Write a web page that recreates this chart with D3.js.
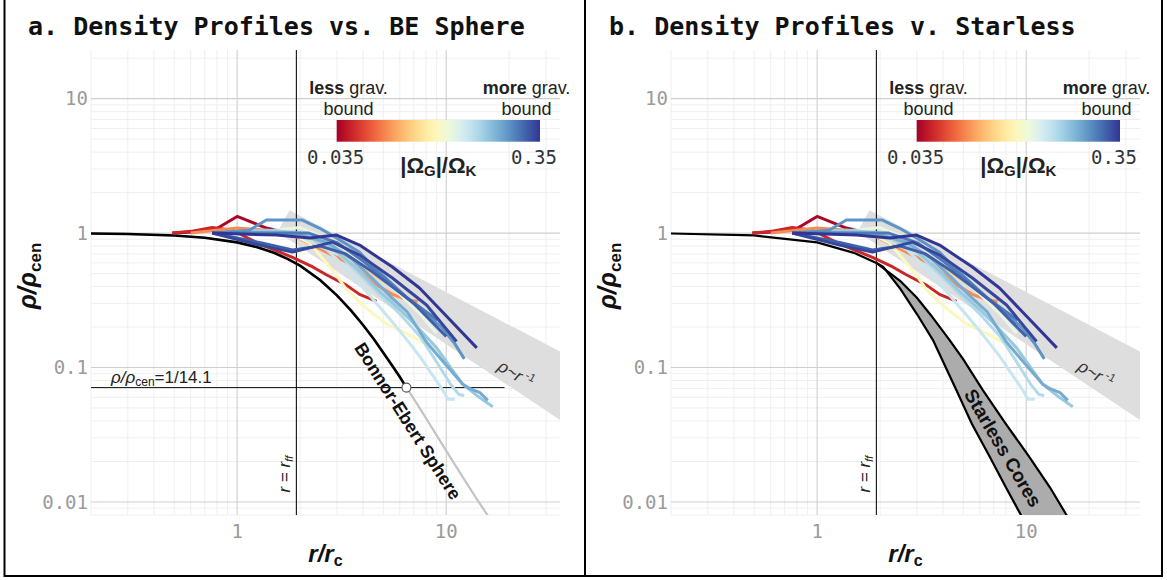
<!DOCTYPE html>
<html><head><meta charset="utf-8">
<script src="https://cdn.jsdelivr.net/npm/d3@7"></script>
<style>
html,body{margin:0;padding:0;background:#fff;}
svg{display:block;}
</style></head>
<body>
<svg id="c" width="1167" height="580"></svg>
<script>
// ---------------- data ----------------
const panelTitles = ["a. Density Profiles vs. BE Sphere", "b. Density Profiles v. Starless"];
const xTicks = [1, 10];
const xTickLabels = ["1", "10"];
const yTicks = [0.01, 0.1, 1, 10];
const yTickLabels = ["0.01", "0.1", "1", "10"];
const rFF = 1.92;
const criticalContrast = 1 / 14.1;
const criticalRadius = 6.45;
const omegaRange = [0.035, 0.35];
const omegaLabels = ["0.035", "0.35"];

// Bonnor-Ebert sphere
const beR   = [0.2, 0.3, 0.5, 0.7, 1.0, 1.25, 1.5, 1.75, 2.0, 2.5, 3.0, 3.5, 4.0, 4.5, 5.0, 5.5, 6.0, 6.45, 7.0, 8.0, 9.0, 10.0, 12.0, 14.0, 16.0, 18.0];
const beRho = [0.993, 0.985, 0.960, 0.923, 0.853, 0.785, 0.713, 0.641, 0.572, 0.446, 0.344, 0.266, 0.207, 0.163, 0.129, 0.104, 0.085, 0.0709, 0.0585, 0.042, 0.0313, 0.024, 0.0153, 0.0105, 0.0077, 0.0058];

// starless cores envelope (panel b)
const slUpperR   = [0.2, 0.5, 1.0, 1.5, 1.92, 2.5, 3.0, 3.5, 4.3, 5.0, 6.2, 8.0, 10.3, 13.0, 15.5, 18.0];
const slUpperRho = [0.993, 0.960, 0.853, 0.713, 0.60, 0.44, 0.33, 0.245, 0.16, 0.115, 0.068, 0.038, 0.0218, 0.0128, 0.0081, 0.0058];
const slLowerR   = [1.92, 2.07, 2.5, 3.0, 3.58, 4.63, 5.5, 6.68, 8.0, 9.39, 10.5];
const slLowerRho = [0.60, 0.56, 0.385, 0.25, 0.16, 0.068, 0.038, 0.0218, 0.0128, 0.0081, 0.0057];

// rho ~ r^-1 band (corners)
const bandR   = [1.78, 40, 40, 1.56];
const bandRho = [1.48, 0.118, 0.0355, 1.02];

// observed profiles
const profOmega = [0.036, 0.042, 0.062, 0.08, 0.11, 0.13, 0.155, 0.17, 0.19, 0.22, 0.245, 0.27, 0.30, 0.33, 0.35];
const profR = [
  [0.49, 0.62, 0.8, 1.0, 1.38, 1.75, 2.2, 2.6],
  [0.49, 0.6, 0.76, 0.95, 1.28, 1.84, 2.3, 2.67, 3.33, 3.85, 4.44, 4.64],
  [0.6, 1.0, 1.4, 1.84, 2.67, 3.56, 4.44, 5.53, 6.5, 7.3],
  [0.76, 1.2, 1.7, 2.3, 3.0, 3.8, 4.8, 6.0],
  [0.76, 1.3, 1.8, 2.2, 2.56, 3.0, 3.33, 4.0, 4.44, 5.2, 6.0, 6.9, 8.0, 9.0, 10.0, 10.7],
  [1.0, 1.5, 2.0, 2.5, 3.2, 4.0, 5.0, 6.0, 7.5, 9.0],
  [0.76, 1.3, 2.0, 2.7, 3.5, 4.4, 5.5, 6.5, 7.5, 8.5, 9.5, 10.2, 11.0],
  [0.76, 1.5, 2.2, 3.0, 3.8, 4.8, 6.0, 7.5, 9.0, 10.5, 11.5, 12.2],
  [0.76, 1.4, 2.0, 2.8, 3.7, 4.7, 6.0, 7.5, 9.0, 10.5, 12.0, 14.0, 16.7],
  [0.76, 1.3, 2.0, 2.7, 3.5, 4.5, 5.5, 6.5, 8.05, 10.0, 12.0, 12.9, 14.5, 15.8],
  [0.76, 1.14, 1.38, 2.05, 2.47, 2.99, 3.85, 4.5, 5.5, 6.5, 8.0, 9.5, 11.0, 12.2],
  [0.76, 1.5, 2.2, 3.0, 4.0, 5.0, 6.5, 8.0, 9.08],
  [0.76, 1.28, 1.84, 2.5, 3.3, 4.4, 5.5, 7.0, 8.5, 10.0],
  [0.76, 1.28, 1.84, 2.86, 3.85, 5.53, 8.05, 11.2],
  [0.76, 1.54, 2.22, 2.99, 3.85, 5.53, 7.45, 9.6, 14.0]
];
const profRho = [
  [1.0, 1.02, 1.08, 1.33, 1.09, 1.0, 0.88, 0.78],
  [1.0, 1.03, 1.1, 1.05, 0.83, 0.66, 0.56, 0.49, 0.41, 0.35, 0.32, 0.31],
  [1.0, 1.09, 1.05, 0.97, 0.72, 0.58, 0.43, 0.35, 0.32, 0.31],
  [1.0, 1.04, 1.02, 0.9, 0.75, 0.6, 0.46, 0.37],
  [1.0, 1.03, 1.0, 0.85, 0.65, 0.48, 0.38, 0.29, 0.254, 0.21, 0.19, 0.17, 0.15, 0.135, 0.11, 0.099],
  [1.0, 1.05, 1.1, 0.95, 0.78, 0.6, 0.45, 0.35, 0.25, 0.18],
  [1.0, 1.0, 0.95, 0.75, 0.5, 0.33, 0.22, 0.16, 0.12, 0.09, 0.07, 0.058, 0.058],
  [1.0, 1.05, 0.95, 0.72, 0.5, 0.35, 0.25, 0.17, 0.11, 0.075, 0.063, 0.062],
  [1.0, 1.05, 1.0, 0.8, 0.55, 0.38, 0.27, 0.19, 0.14, 0.1, 0.075, 0.062, 0.051],
  [1.0, 1.0, 0.97, 0.85, 0.65, 0.45, 0.33, 0.26, 0.154, 0.104, 0.075, 0.07, 0.065, 0.057],
  [1.0, 1.05, 1.25, 1.25, 1.09, 0.92, 0.72, 0.56, 0.42, 0.33, 0.25, 0.2, 0.15, 0.116],
  [1.0, 1.0, 1.0, 0.85, 0.62, 0.47, 0.33, 0.26, 0.226],
  [1.0, 0.85, 0.75, 0.8, 0.7, 0.52, 0.4, 0.3, 0.22, 0.17],
  [1.0, 0.814, 0.722, 0.857, 0.686, 0.463, 0.292, 0.156],
  [1.0, 0.966, 0.918, 0.966, 0.814, 0.559, 0.39, 0.259, 0.14]
];

// ---------------- drawing ----------------
const svg = d3.select("#c");
const monoFont = "'DejaVu Sans Mono', 'Liberation Mono', monospace";
const sansFont = "'Liberation Sans', Arial, Helvetica, sans-serif";
const color = d3.scaleSequentialLog(d3.interpolateRdYlBu).domain(omegaRange);

// colorbar gradient
const defs = svg.append("defs");
const grad = defs.append("linearGradient").attr("id", "cbar").attr("x1", "0%").attr("x2", "100%");
d3.range(0, 1.0001, 0.05).forEach(t => grad.append("stop").attr("offset", (t * 100) + "%").attr("stop-color", d3.interpolateRdYlBu(t)));

// panel borders
svg.append("rect").attr("x", 4.5).attr("y", -5).attr("width", 580.5).attr("height", 581)
  .attr("fill", "none").attr("stroke", "#000").attr("stroke-width", 2);
svg.append("rect").attr("x", 585).attr("y", -5).attr("width", 577).attr("height", 581)
  .attr("fill", "none").attr("stroke", "#000").attr("stroke-width", 2);

function minorVals(lo, hi) {
  const out = [];
  for (let e = -4; e <= 3; e++) for (let m = 1; m <= 9; m++) {
    const v = m * Math.pow(10, e);
    if (v >= lo * 0.999 && v <= hi * 1.001) out.push(v);
  }
  return out;
}

function drawPanel(idx) {
  const off = idx === 0 ? 0 : 580;
  const x = d3.scaleLog().domain([0.2, 35]).range([91 + off, 560 + off]);
  const y = d3.scaleLog().domain([0.008, 23]).range([515, 50]);
  const g = svg.append("g");
  const clipId = "clip" + idx;
  defs.append("clipPath").attr("id", clipId).append("rect")
    .attr("x", x.range()[0]).attr("y", 50).attr("width", x.range()[1] - x.range()[0]).attr("height", 465);

  // title
  g.append("text").attr("x", 28 + off + (idx ? 1 : 0)).attr("y", 35).attr("font-family", monoFont)
    .attr("font-weight", "bold").attr("font-size", 25).attr("fill", "#111").text(panelTitles[idx]);

  // grid
  const gx = minorVals(0.2, 35), gy = minorVals(0.008, 23);
  g.selectAll(".vmin").data(gx.filter(v => !xTicks.includes(v))).join("line")
    .attr("x1", d => x(d)).attr("x2", d => x(d)).attr("y1", 50).attr("y2", 515)
    .attr("stroke", "#ededed").attr("stroke-width", 0.9);
  g.selectAll(".hmin").data(gy.filter(v => !yTicks.includes(v))).join("line")
    .attr("y1", d => y(d)).attr("y2", d => y(d)).attr("x1", x.range()[0]).attr("x2", x.range()[1])
    .attr("stroke", "#ededed").attr("stroke-width", 0.9);
  g.selectAll(".vmaj").data(xTicks).join("line")
    .attr("x1", d => x(d)).attr("x2", d => x(d)).attr("y1", 50).attr("y2", 515)
    .attr("stroke", "#cfcfcf").attr("stroke-width", 1.1);
  g.selectAll(".hmaj").data(yTicks).join("line")
    .attr("y1", d => y(d)).attr("y2", d => y(d)).attr("x1", x.range()[0]).attr("x2", x.range()[1])
    .attr("stroke", "#cfcfcf").attr("stroke-width", 1.1);

  // axes tick labels
  g.selectAll(".xt").data(xTicks).join("text")
    .attr("x", d => x(d)).attr("y", 538).attr("text-anchor", "middle")
    .attr("font-family", monoFont).attr("font-size", 19).attr("fill", "#9a9a9a")
    .text((d, i) => xTickLabels[i]);
  g.selectAll(".yt").data(yTicks).join("text")
    .attr("x", x.range()[0] - 3).attr("y", d => y(d)).attr("dy", "0.36em").attr("text-anchor", "end")
    .attr("font-family", monoFont).attr("font-size", 19).attr("fill", "#9a9a9a")
    .text((d, i) => yTickLabels[i]);

  // axis titles
  const xt = g.append("text").attr("x", (x.range()[0] + x.range()[1]) / 2).attr("y", 562)
    .attr("text-anchor", "middle").attr("font-family", sansFont).attr("font-weight", "bold")
    .attr("font-size", 24).attr("fill", "#111");
  xt.append("tspan").attr("font-style", "italic").text("r/r");
  xt.append("tspan").attr("font-size", 16).attr("dy", 4).text("c");
  const yt = g.append("text").attr("transform", `translate(${36 + off},${276}) rotate(-90)`)
    .attr("text-anchor", "middle").attr("font-family", sansFont).attr("font-weight", "bold")
    .attr("font-size", 25).attr("fill", "#111");
  yt.append("tspan").attr("font-style", "italic").text("ρ/ρ");
  yt.append("tspan").attr("font-size", 17).attr("dy", 5).text("cen");

  const plot = g.append("g").attr("clip-path", `url(#${clipId})`);

  // rho ~ r^-1 band
  const bandPts = bandR.map((r, i) => [x(r), y(bandRho[i])]);
  plot.append("path").attr("d", "M" + bandPts.join("L") + "Z").attr("fill", "#dedede");

  const line = d3.line().x(d => x(d[0])).y(d => y(d[1]));

  if (idx === 0) {
    // full BE (gray), black to critical radius
    const be = beR.map((r, i) => [r, beRho[i]]);
    plot.append("path").attr("d", line(be)).attr("fill", "none").attr("stroke", "#c4c4c4").attr("stroke-width", 2.2);
    plot.append("path").attr("d", line(be.filter(d => d[0] <= criticalRadius + 1e-9)))
      .attr("fill", "none").attr("stroke", "#000").attr("stroke-width", 2.6);
    // critical contrast line
    plot.append("line").attr("x1", x.range()[0]).attr("x2", x(19)).attr("y1", y(criticalContrast)).attr("y2", y(criticalContrast))
      .attr("stroke", "#111").attr("stroke-width", 1);
    const lab = g.append("text").attr("x", 111).attr("y", y(criticalContrast) - 5)
      .attr("font-family", sansFont).attr("font-size", 17).attr("fill", "#222");
    lab.append("tspan").attr("font-style", "italic").text("ρ/ρ");
    lab.append("tspan").attr("font-size", 12).attr("dy", 3).text("cen");
    lab.append("tspan").attr("dy", -3).text("=1/14.1");
  } else {
    const up = slUpperR.map((r, i) => [r, slUpperRho[i]]);
    const lo = slLowerR.map((r, i) => [r, slLowerRho[i]]);
    const poly = up.filter(d => d[0] >= rFF).concat(lo.slice().reverse());
    plot.append("path").attr("d", line(poly) + "Z").attr("fill", "#acacac").attr("stroke", "none");
    plot.append("path").attr("d", line(up)).attr("fill", "none").attr("stroke", "#000").attr("stroke-width", 2.2);
    plot.append("path").attr("d", line(lo)).attr("fill", "none").attr("stroke", "#000").attr("stroke-width", 2.2);
  }

  // r = r_ff line
  plot.append("line").attr("x1", x(rFF)).attr("x2", x(rFF)).attr("y1", 50).attr("y2", 515)
    .attr("stroke", "#111").attr("stroke-width", 1.1);
  const rl = g.append("text").attr("transform", `translate(${x(rFF) - 6},${474}) rotate(-90)`)
    .attr("text-anchor", "middle").attr("font-family", sansFont).attr("font-size", 17).attr("fill", "#222");
  rl.append("tspan").attr("font-style", "italic").text("r");
  rl.append("tspan").text(" = ");
  rl.append("tspan").attr("font-style", "italic").text("r");
  rl.append("tspan").attr("font-size", 11).attr("dy", 3).attr("font-style", "italic").text("ff");

  // profiles
  profR.forEach((rs, i) => {
    const pts = rs.map((r, j) => [r, profRho[i][j]]);
    plot.append("path").attr("d", line(pts)).attr("fill", "none")
      .attr("stroke", color(profOmega[i])).attr("stroke-width", 3)
      .attr("stroke-linejoin", "round").attr("stroke-linecap", "butt");
  });

  if (idx === 0) {
    g.append("circle").attr("cx", x(criticalRadius)).attr("cy", y(criticalContrast)).attr("r", 4.5)
      .attr("fill", "#fff").attr("stroke", "#555").attr("stroke-width", 1.2);
    g.append("text").attr("transform", `translate(${408},${421}) rotate(57.5)`)
      .attr("text-anchor", "middle").attr("dy", "0.35em").attr("font-family", sansFont)
      .attr("font-weight", "bold").attr("font-size", 18).attr("fill", "#111").text("Bonnor-Ebert Sphere");
  } else {
    g.append("text").attr("transform", `translate(${1003},${448}) rotate(59.5)`)
      .attr("text-anchor", "middle").attr("dy", "0.35em").attr("font-family", sansFont)
      .attr("font-weight", "bold").attr("font-size", 19).attr("fill", "#111").text("Starless Cores");
  }

  // rho ~ r^-1 label
  const pl = g.append("text").attr("transform", `translate(${516 + off},${374}) rotate(30)`)
    .attr("text-anchor", "middle").attr("dy", "0.35em").attr("font-family", sansFont)
    .attr("font-size", 17).attr("fill", "#333");
  pl.append("tspan").attr("font-style", "italic").text("ρ~r");
  pl.append("tspan").attr("font-size", 11).attr("dy", -7).text(" -1");

  // colorbar
  const cbx = 336.7 + off, cbw = 203.3, cby = 120, cbh = 21.7;
  g.append("rect").attr("x", cbx).attr("y", cby).attr("width", cbw).attr("height", cbh).attr("fill", "url(#cbar)");
  const l1 = g.append("text").attr("x", 348.5 + off).attr("y", 94).attr("text-anchor", "middle")
    .attr("font-family", sansFont).attr("font-size", 18).attr("fill", "#222");
  l1.append("tspan").attr("font-weight", "bold").text("less");
  l1.append("tspan").text(" grav.");
  g.append("text").attr("x", 348.5 + off).attr("y", 115).attr("text-anchor", "middle")
    .attr("font-family", sansFont).attr("font-size", 18).attr("fill", "#222").text("bound");
  const l2 = g.append("text").attr("x", 526.5 + off).attr("y", 94).attr("text-anchor", "middle")
    .attr("font-family", sansFont).attr("font-size", 18).attr("fill", "#222");
  l2.append("tspan").attr("font-weight", "bold").text("more");
  l2.append("tspan").text(" grav.");
  g.append("text").attr("x", 526.5 + off).attr("y", 115).attr("text-anchor", "middle")
    .attr("font-family", sansFont).attr("font-size", 18).attr("fill", "#222").text("bound");
  g.append("text").attr("x", cbx - 1).attr("y", 164).attr("text-anchor", "middle")
    .attr("font-family", monoFont).attr("font-size", 19).attr("fill", "#333").text(omegaLabels[0]);
  g.append("text").attr("x", cbx + cbw - 6).attr("y", 164).attr("text-anchor", "middle")
    .attr("font-family", monoFont).attr("font-size", 19).attr("fill", "#333").text(omegaLabels[1]);
  const om = g.append("text").attr("x", cbx + cbw / 2).attr("y", 173).attr("text-anchor", "middle")
    .attr("font-family", sansFont).attr("font-weight", "bold").attr("font-size", 22).attr("fill", "#222");
  om.append("tspan").text("|Ω");
  om.append("tspan").attr("font-size", 15).attr("dy", 3).text("G");
  om.append("tspan").attr("dy", -3).text("|/Ω");
  om.append("tspan").attr("font-size", 15).attr("dy", 3).text("K");
}

drawPanel(0);
drawPanel(1);
</script>
</body></html>
